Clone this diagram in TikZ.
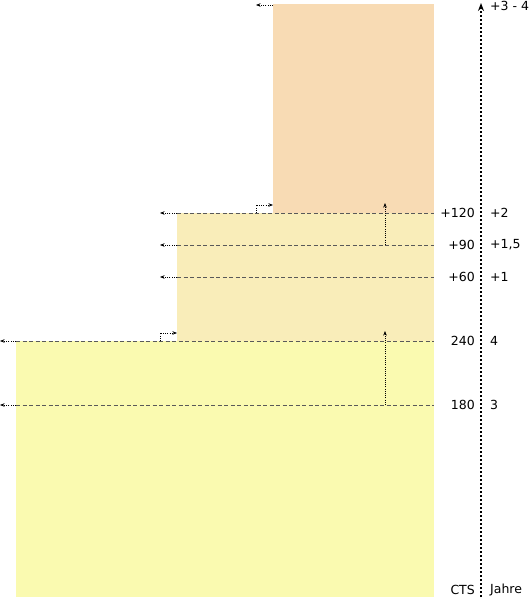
\documentclass[tikz,border=0pt]{standalone}
\usepackage{fontspec}
\setmainfont{DejaVu Sans}
\usepackage{tikz}
\usetikzlibrary{positioning}
\usetikzlibrary{arrows.meta}

\definecolor{ctsfield}{RGB}{250,250,176}
\definecolor{yearfield}{RGB}{249,237,185}
\definecolor{topfield}{RGB}{248,219,180}

\begin{document}
\begin{tikzpicture}[
      x=1pt, y=-1pt,
      level/.style={draw=black!65, line width=1pt, dash pattern=on 4pt off 2.5pt},
      moveto/.style={draw=black, line width=0.6pt, dash pattern=on 1pt off 1.2pt,
        -{Stealth[length=4.5pt,width=3.5pt]}},
      axis/.style={draw=black, line width=1.9pt, dash pattern=on 2pt off 2pt,
        -{Stealth[length=8pt,width=6pt]}},
      lbl/.style={font=\fontsize{12.5}{14}\selectfont, inner sep=0pt}
    ]
    \useasboundingbox (0,0) rectangle (530,599);
    % fields
    \fill[ctsfield] (16,341) rectangle (434,597);
    \fill[yearfield] (177,213) rectangle (434,341);
    \fill[topfield] (273,4) rectangle (434,213);

    % level lines
    \coordinate (a120) at (177,213);
    \coordinate (b120) at (434,213);
    \coordinate (a90) at (177,245);
    \coordinate (b90) at (434,245);
    \coordinate (a60) at (177,277);
    \coordinate (b60) at (434,277);
    \coordinate (a240) at (16,341);
    \coordinate (b240) at (434,341);
    \coordinate (a180) at (16,405);
    \coordinate (b180) at (434,405);
    \coordinate (atop) at (273,5);
    \draw[level] (a120) -- (b120);
    \draw[level] (a90) -- (b90);
    \draw[level] (a60) -- (b60);
    \draw[level] (a240) -- (b240);
    \draw[level] (a180) -- (b180);

    % moves to the left
    \draw[moveto] (a120) -- ++(-17,0);
    \draw[moveto] (a90) -- ++(-17,0);
    \draw[moveto] (a60) -- ++(-17,0);
    \draw[moveto] (a240) -- ++(-16,0);
    \draw[moveto] (a180) -- ++(-16,0);
    \draw[moveto] (atop) -- ++(-17,0);

    % steps
    \coordinate (s120) at (256,213);
    \coordinate (s240) at (160,341);
    \draw[moveto] (s120) |- ++(17,-8);
    \draw[moveto] (s240) |- ++(17,-8);

    % rises
    \coordinate (r90) at (385,245);
    \coordinate (r180) at (385,405);
    \draw[moveto] (r90) -- ++(0,-42);
    \draw[moveto] (r180) -- ++(0,-74);

    % axis
    \coordinate (ax0) at (481,597);
    \coordinate (ax1) at (481,3);
    \draw[axis] (ax0) -- (ax1);

    % labels
    \node[lbl, anchor=west] (ltop) at (490,6) {+3 - 4};
    \node[lbl, anchor=east] (l120) at (475,213) {+120};
    \node[lbl, anchor=west] (r120) at (490,213) {+2};
    \node[lbl, anchor=east] (l90) at (475,245) {+90};
    \node[lbl, anchor=west] (r90l) at (490,245) {+1,5};
    \node[lbl, anchor=east] (l60) at (475,277) {+60};
    \node[lbl, anchor=west] (r60) at (490,277) {+1};
    \node[lbl, anchor=east] (l240) at (475,341) {240};
    \node[lbl, anchor=west] (r240) at (490,341) {4};
    \node[lbl, anchor=east] (l180) at (475,405) {180};
    \node[lbl, anchor=west] (r180l) at (490,405) {3};
    \node[lbl, anchor=east] (lcts) at (475,590) {CTS};
    \node[lbl, anchor=west] (ljahre) at (490,590) {Jahre};
\end{tikzpicture}
\end{document}
